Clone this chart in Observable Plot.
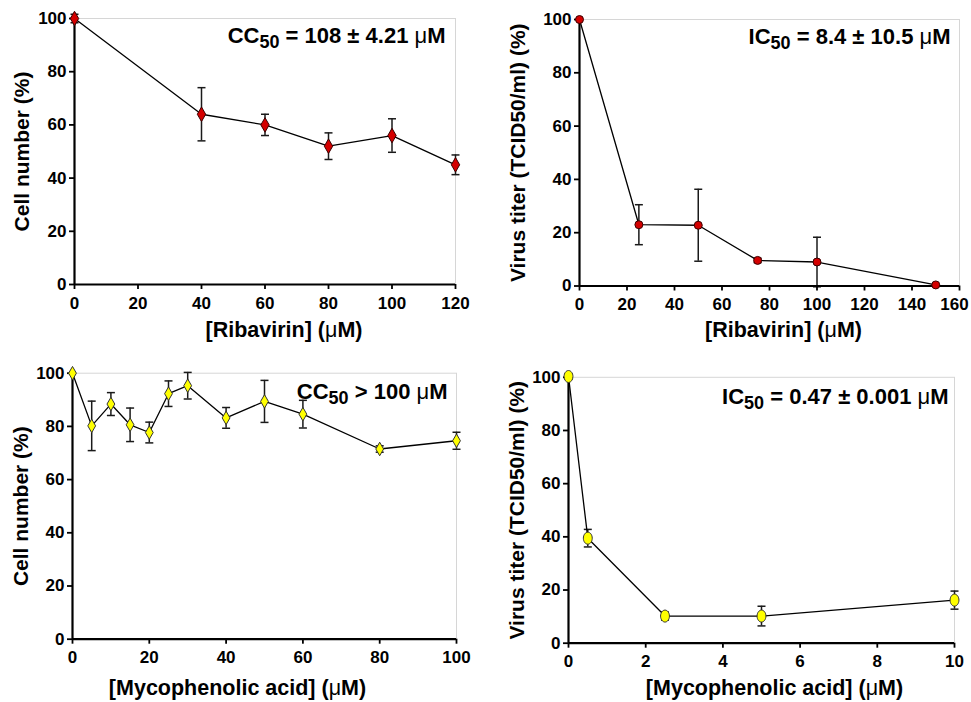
<!DOCTYPE html>
<html><head><meta charset="utf-8">
<script src="https://cdn.jsdelivr.net/npm/d3@7"></script>
<script src="https://cdn.jsdelivr.net/npm/@observablehq/plot@0.6"></script>
<style>
body{margin:0;background:#fff;}
#fig{position:relative;width:971px;height:702px;overflow:hidden;background:#fff;}
#fig > div{position:absolute;}
</style></head><body><div id="fig"></div>
<script>
// ---------- data ----------
const yTicks = [0, 20, 40, 60, 80, 100];

// Ribavirin cytotoxicity
const ribCytoConc = [0, 40, 60, 80, 100, 120];
const ribCytoCell = [100, 64, 60, 52, 56, 45];
const ribCytoErr  = [1.6, 10, 4, 5, 6.3, 3.7];
const ribCytoTicks = [0, 20, 40, 60, 80, 100, 120];

// Ribavirin antiviral
const ribVirConc  = [0, 25, 50, 75, 100, 150];
const ribVirTiter = [100, 23, 22.8, 9.6, 9, 0.4];
const ribVirErr   = [0, 7.5, 13.5, 0.8, 9.3, 0];
const ribVirTicks = [0, 20, 40, 60, 80, 100, 120, 140, 160];

// Mycophenolic acid cytotoxicity
const mpaCytoConc = [0, 5, 10, 15, 20, 25, 30, 40, 50, 60, 80, 100];
const mpaCytoCell = [100, 80.2, 88.4, 80.6, 77.7, 92.3, 95.3, 83.2, 89.4, 84.6, 71.5, 74.6];
const mpaCytoErr  = [0, 9.3, 4.3, 6.3, 3.9, 4.8, 5, 3.9, 7.9, 5.2, 1.2, 3.2];
const mpaCytoTicks = [0, 20, 40, 60, 80, 100];

// Mycophenolic acid antiviral
const mpaVirConc  = [0, 0.5, 2.5, 5, 10];
const mpaVirTiter = [100.3, 39.5, 10.2, 10.2, 16.2];
const mpaVirErr   = [1, 3.3, 1.5, 3.7, 3.4];
const mpaVirTicks = [0, 2, 4, 6, 8, 10];

const xLabels = ["[Ribavirin] (μM)", "[Ribavirin] (μM)", "[Mycophenolic acid] (μM)", "[Mycophenolic acid] (μM)"];
const yLabels = ["Cell number (%)", "Virus titer (TCID50/ml) (%)", "Cell number (%)", "Virus titer (TCID50/ml) (%)"];
const notes = ["CC_{50} = 108 ± 4.21 μM", "IC_{50} = 8.4 ± 10.5 μM", "CC_{50} > 100 μM", "IC_{50} = 0.47 ± 0.001 μM"];

// ---------- symbols ----------
const capSymbol = {draw(ctx, size) { const r = Math.sqrt(size / Math.PI); ctx.moveTo(-r, 0); ctx.lineTo(r, 0); }};
const ellipseSymbol = {draw(ctx, size) {
  const r = Math.sqrt(size / Math.PI), rx = r * 0.74, ry = r, k = 0.5523;
  ctx.moveTo(0, -ry);
  ctx.bezierCurveTo(k * rx, -ry, rx, -k * ry, rx, 0);
  ctx.bezierCurveTo(rx, k * ry, k * rx, ry, 0, ry);
  ctx.bezierCurveTo(-k * rx, ry, -rx, k * ry, -rx, 0);
  ctx.bezierCurveTo(-rx, -k * ry, -k * rx, -ry, 0, -ry);
  ctx.closePath();
}};

const FONT = '"Liberation Sans", Arial, Helvetica, sans-serif';

function richify(svg) {
  svg.querySelectorAll("text").forEach(t => {
    const s = t.textContent;
    if (!s.includes("μ") && !s.includes("_{")) return;
    const parts = [];
    const re = /_\{([^}]*)\}|μ/g;
    let last = 0, m;
    while ((m = re.exec(s))) {
      if (m.index > last) parts.push({t: s.slice(last, m.index)});
      if (m[0] === "μ") parts.push({t: "μ", mu: true});
      else parts.push({t: m[1], sub: true});
      last = re.lastIndex;
    }
    if (last < s.length) parts.push({t: s.slice(last)});
    t.textContent = "";
    const ns = "http://www.w3.org/2000/svg";
    let shifted = false;
    parts.forEach(p => {
      const ts = document.createElementNS(ns, "tspan");
      ts.textContent = p.t;
      if (p.mu) ts.setAttribute("font-weight", "normal");
      if (p.sub) { ts.setAttribute("font-size", "18"); ts.setAttribute("dy", "5"); shifted = true; }
      else if (shifted) { ts.setAttribute("dy", "-5"); shifted = false; }
      t.appendChild(ts);
    });
  });
}

function panel(o) {
  const data = o.conc.map((x, i) => ({x, y: o.val[i], lo: o.val[i] - o.err[i], hi: o.val[i] + o.err[i], e: o.err[i]}));
  const bars = data.filter(d => d.e > 0.6);
  const lastTick = o.xTicks[o.xTicks.length - 1];
  const mainTicks = o.lastDx ? o.xTicks.slice(0, -1) : o.xTicks;
  const svg = Plot.plot({
    width: o.width, height: o.height,
    marginLeft: o.m[0], marginRight: o.m[1], marginTop: o.m[2], marginBottom: o.m[3],
    x: {domain: o.xDomain},
    y: {domain: [0, 100]},
    style: {fontFamily: FONT, fontSize: "17px", fontWeight: "bold", color: "#000", background: "transparent", overflow: "visible"},
    marks: [
      Plot.frame({stroke: "#d6d6d6", strokeWidth: 1}),
      Plot.ruleX(bars, {x: "x", y1: "lo", y2: "hi", stroke: "#1a1a1a", strokeWidth: 1.5}),
      Plot.dot(bars, {x: "x", y: "hi", symbol: capSymbol, r: 4, stroke: "#1a1a1a", strokeWidth: 1.5, fill: "none"}),
      Plot.dot(bars, {x: "x", y: "lo", symbol: capSymbol, r: 4, stroke: "#1a1a1a", strokeWidth: 1.5, fill: "none"}),
      Plot.line(data, {x: "x", y: "y", stroke: "#000", strokeWidth: 1.3}),
      Plot.axisX({ticks: mainTicks, tickSize: 5, tickPadding: 7, label: null, strokeWidth: 1.8}),
      o.lastDx ? Plot.axisX({ticks: [lastTick], tickSize: 5, tickPadding: 7, label: null, strokeWidth: 1.8, text: null}) : null,
      o.lastDx ? Plot.axisX({ticks: [lastTick], tickSize: 0, tickPadding: 12, label: null, dx: o.lastDx}) : null,
      Plot.axisY({ticks: yTicks, tickSize: 5, tickPadding: 3, label: null, strokeWidth: 1.8}),
      Plot.ruleX([o.xDomain[0]], {stroke: "#000", strokeWidth: 2.2}),
      Plot.ruleY([0], {stroke: "#000", strokeWidth: 2.2}),
      Plot.dot(data, {x: "x", y: "y", symbol: o.symbol, r: o.r, fill: o.fill, stroke: o.stroke, strokeWidth: 1}),
      Plot.text([o.xLabel], {frameAnchor: "bottom", textAnchor: "middle", lineAnchor: "bottom", dx: o.xlDx, dy: o.xlDy, fontSize: 21.5}),
      Plot.text([o.yLabel], {frameAnchor: "left", textAnchor: "middle", rotate: -90, lineAnchor: "middle", dx: o.ylDx, fontSize: 21}),
      Plot.text([o.note], {frameAnchor: "top-right", textAnchor: "end", lineAnchor: "bottom", dx: o.nDx, dy: o.nDy, fontSize: 22})
    ].filter(Boolean)
  });
  richify(svg);
  const div = document.createElement("div");
  div.style.left = o.left + "px";
  div.style.top = o.top + "px";
  div.appendChild(svg);
  document.getElementById("fig").appendChild(div);
}

panel({left: 0, top: 0, width: 485, height: 350, m: [74, 30, 18, 66],
  xDomain: [0, 120], xTicks: ribCytoTicks, conc: ribCytoConc, val: ribCytoCell, err: ribCytoErr,
  symbol: "diamond", r: 4.4, fill: "#d40000", stroke: "#3a0000",
  xLabel: xLabels[0], yLabel: yLabels[0], note: notes[0],
  xlDx: 19, xlDy: 52, ylDx: -52, nDx: -10, nDy: 24});

panel({left: 485, top: 0, width: 486, height: 350, m: [94, 12, 19, 64.5],
  xDomain: [0, 160], xTicks: ribVirTicks, conc: ribVirConc, val: ribVirTiter, err: ribVirErr,
  symbol: "circle", r: 4, fill: "#d40000", stroke: "#3a0000", lastDx: -5,
  xLabel: xLabels[1], yLabel: yLabels[1], note: notes[1],
  xlDx: 14, xlDy: 50.5, ylDx: -61.5, nDx: -9, nDy: 24});

panel({left: 0, top: 350, width: 485, height: 352, m: [72, 29, 22.7, 63.3],
  xDomain: [0, 100], xTicks: mpaCytoTicks, conc: mpaCytoConc, val: mpaCytoCell, err: mpaCytoErr,
  symbol: "diamond", r: 4.1, fill: "#ffff00", stroke: "#333",
  xLabel: xLabels[2], yLabel: yLabels[2], note: notes[2],
  xlDx: -27, xlDy: 56, ylDx: -51, nDx: -9, nDy: 26});

panel({left: 485, top: 350, width: 486, height: 352, m: [83, 17, 26.8, 59.3],
  xDomain: [0, 10], xTicks: mpaVirTicks, conc: mpaVirConc, val: mpaVirTiter, err: mpaVirErr,
  symbol: ellipseSymbol, r: 6, fill: "#ffff00", stroke: "#333",
  xLabel: xLabels[3], yLabel: yLabels[3], note: notes[3],
  xlDx: 13, xlDy: 52, ylDx: -51, nDx: -6, nDy: 26.5});
</script>
</body></html>
